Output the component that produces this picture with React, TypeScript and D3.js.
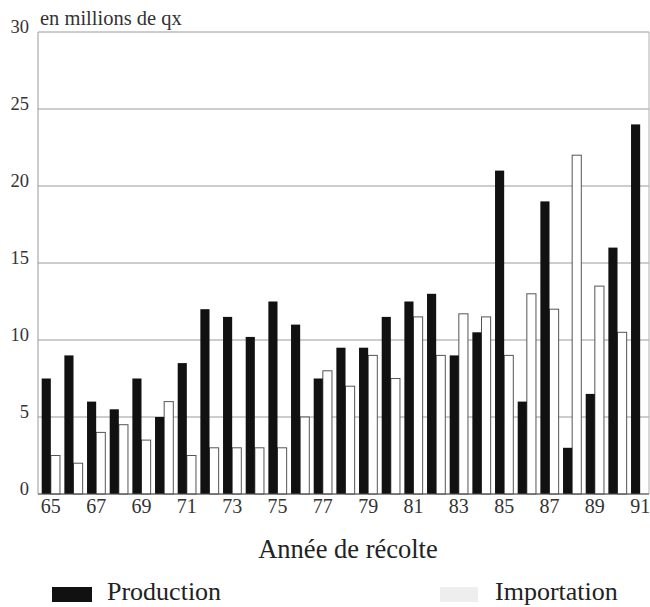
import React from "react";
import * as d3 from "d3";

const years = [65,66,67,68,69,70,71,72,73,74,75,76,77,78,79,80,81,82,83,84,85,86,87,88,89,90,91];
const production = [7.5,9,6,5.5,7.5,5,8.5,12,11.5,10.2,12.5,11,7.5,9.5,9.5,11.5,12.5,13,9,10.5,21,6,19,3,6.5,16,24];
const importation: (number | null)[] = [2.5,2,4,4.5,3.5,6,2.5,3,3,3,3,5,8,7,9,7.5,11.5,9,11.7,11.5,9,13,12,22,13.5,10.5,null];
const yTicks = [0,5,10,15,20,25,30];
const seriesKeys = ["Production", "Importation"];

const W = 650, H = 607;
const FONT = "Liberation Serif, Tinos, Times New Roman, Times, DejaVu Serif, serif";

export default function App() {
  const x = d3.scaleBand<number>().domain(years).range([39.5, 651.5]).paddingInner(0).paddingOuter(0);
  const x1 = d3.scaleBand<string>().domain(seriesKeys).range([2.2, x.bandwidth() - 2.2]).padding(0);
  const y = d3.scaleLinear().domain([0, 30]).range([494, 32]);
  const left = 38, right = 649;
  const ts = { fontFamily: FONT } as React.CSSProperties;

  return (
    <svg width={W} height={H} style={{ position: "absolute", left: 0, top: 0, background: "#fff", fontFamily: FONT }}>
      {yTicks.map((t) => (
        <line key={"g" + t} x1={left} x2={right} y1={y(t)} y2={y(t)} stroke="#9a9a9a" strokeWidth={1} />
      ))}
      <line x1={left} x2={left} y1={y(30)} y2={y(0)} stroke="#9a9a9a" strokeWidth={1} />
      <line x1={right} x2={right} y1={y(30)} y2={y(0)} stroke="#b0b0b0" strokeWidth={1} />
      {yTicks.map((t) => (
        <text key={"yt" + t} x={29} y={y(t) + 1} textAnchor="end" fontSize={18.5} fill="#333" style={ts}>{t}</text>
      ))}
      <text x={40} y={25} fontSize={20.5} fill="#333" style={ts}>en millions de qx</text>
      {years.map((yr, i) => {
        const bx = x(yr)!;
        const p = production[i];
        const im = importation[i];
        return (
          <g key={"b" + yr}>
            {im != null && (
              <rect x={bx + x1("Importation")!} y={y(im)} width={x1.bandwidth()} height={y(0) - y(im)}
                fill="#fff" stroke="#555" strokeWidth={1} />
            )}
            <rect x={bx + x1("Production")!} y={y(p)} width={x1.bandwidth()} height={y(0) - y(p)} fill="#111" />
          </g>
        );
      })}
      <line x1={left} x2={right} y1={y(0)} y2={y(0)} stroke="#555" strokeWidth={1} />
      {years.filter((yr) => yr % 2 === 1).map((yr) => (
        <text key={"xt" + yr} x={x(yr)! + x.bandwidth() / 2} y={513} textAnchor="middle" fontSize={20} fill="#333" style={ts}>{yr}</text>
      ))}
      <text x={348} y={558} textAnchor="middle" fontSize={26.5} fill="#222" style={ts}>Année de récolte</text>
      <rect x={52} y={587} width={40} height={15} fill="#111" />
      <text x={107} y={600} fontSize={26} fill="#222" style={ts}>Production</text>
      <rect x={440} y={587} width={38} height={15} fill="#eeeeee" />
      <text x={495} y={600} fontSize={26} fill="#222" style={ts}>Importation</text>
    </svg>
  );
}
